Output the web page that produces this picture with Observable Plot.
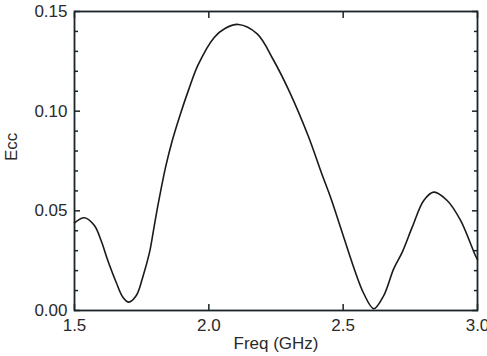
<!DOCTYPE html>
<html>
<head>
<meta charset="utf-8">
<script src="https://cdn.jsdelivr.net/npm/d3@7"></script>
<script src="https://cdn.jsdelivr.net/npm/@observablehq/plot@0.6"></script>
<style>
  html, body { margin: 0; padding: 0; background: #fff; }
</style>
</head>
<body>
<div id="chart"></div>
<script>
const freq = [1.500,1.537,1.574,1.599,1.624,1.655,1.680,1.702,1.730,1.754,1.779,1.795,1.814,1.839,1.864,1.894,1.925,1.960,2.020,2.060,2.110,2.180,2.240,2.300,2.370,2.420,2.453,2.490,2.539,2.577,2.614,2.651,2.688,2.720,2.757,2.800,2.837,2.887,2.937,2.992,3.000];
const ecc  = [0.0440,0.0465,0.0426,0.0351,0.0251,0.0142,0.0067,0.0042,0.0075,0.0167,0.0290,0.0410,0.0552,0.0719,0.0853,0.0985,0.1108,0.1232,0.1370,0.1415,0.1435,0.1388,0.1258,0.1098,0.0875,0.0687,0.0568,0.0418,0.0217,0.0084,0.0009,0.0075,0.0209,0.0293,0.0418,0.0552,0.0594,0.0552,0.0452,0.0276,0.0255];
const xTicks = [1.5, 2.0, 2.5, 3.0];
const xTickLabels = ["1.5", "2.0", "2.5", "3.0"];
const yTicks = [0.00, 0.05, 0.10, 0.15];
const yTickLabels = ["0.00", "0.05", "0.10", "0.15"];
const yMinor = [0.01,0.02,0.03,0.04,0.06,0.07,0.08,0.09,0.11,0.12,0.13,0.14];
const xLabel = "Freq (GHz)";
const yLabel = "Ecc";

const data = freq.map((f, i) => ({f, e: ecc[i]}));
const axisColor = "#1b2428";
const blank = () => "";
const tk = {stroke: axisColor, strokeWidth: 1.5, tickFormat: blank, label: null};

const chart = Plot.plot({
  width: 487,
  height: 356,
  marginLeft: 74,
  marginRight: 10,
  marginTop: 11,
  marginBottom: 46,
  x: {domain: [1.5, 3.0]},
  y: {domain: [0, 0.15]},
  style: {fontFamily: "'Liberation Sans', Arial, sans-serif", fontSize: "17px", color: "#2a2a2a", background: "#fff"},
  marks: [
    Plot.axisY(yTicks, {anchor: "left", tickSize: 0, tickPadding: 7,
      tickFormat: (d) => yTickLabels[yTicks.indexOf(d)], label: null}),
    Plot.axisX(xTicks, {anchor: "bottom", tickSize: 0, tickPadding: 8,
      tickFormat: (d) => xTickLabels[xTicks.indexOf(d)], label: null}),
    // inward ticks: outward ticks shifted inside by their own length
    Plot.axisY(yTicks, {anchor: "left", tickSize: 6, dx: 6, ...tk}),
    Plot.axisY(yMinor, {anchor: "left", tickSize: 4, dx: 4, ...tk}),
    Plot.axisY(yTicks, {anchor: "right", tickSize: 6, dx: -6, ...tk}),
    Plot.axisY(yMinor, {anchor: "right", tickSize: 4, dx: -4, ...tk}),
    Plot.axisX(xTicks, {anchor: "bottom", tickSize: 6, dy: -6, ...tk}),
    Plot.axisX(xTicks, {anchor: "top", tickSize: 6, dy: 6, ...tk}),
    Plot.frame({stroke: axisColor, strokeWidth: 1.8}),
    Plot.line(data, {x: "f", y: "e", curve: "catmull-rom", stroke: "#1a1a1a", strokeWidth: 1.6}),
    Plot.text([xLabel], {frameAnchor: "bottom", dy: 33, lineAnchor: "middle", fontSize: 17, fill: "#2a2a2a"}),
    Plot.text([yLabel], {frameAnchor: "left", dx: -63, rotate: -90, lineAnchor: "middle", fontSize: 17, fill: "#2a2a2a"})
  ]
});
document.getElementById("chart").appendChild(chart);
</script>
</body>
</html>
